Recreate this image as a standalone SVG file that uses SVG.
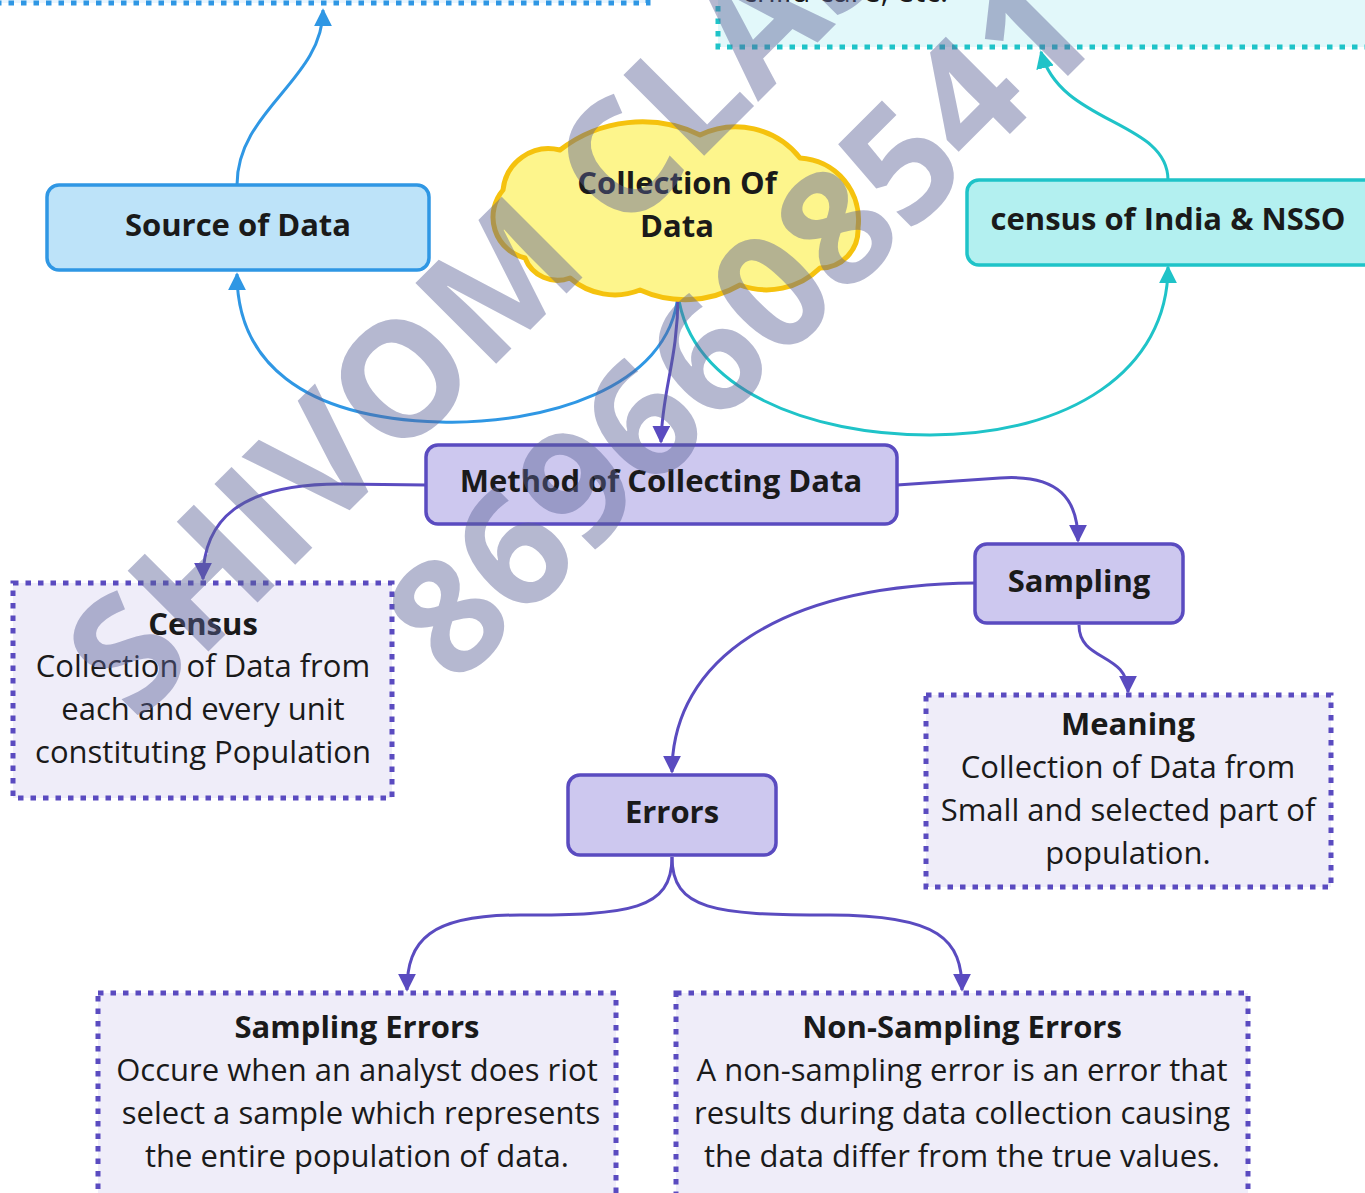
<svg xmlns="http://www.w3.org/2000/svg" width="1365" height="1193" viewBox="0 0 1365 1193">
<style>
  text { font-family: "Open Sans", "Noto Sans", "Liberation Sans", sans-serif; font-size: 31px; fill: #1a1a1a; text-anchor: middle; }
  .b { font-weight: 700; }
  .pbox { fill: #cdc8ef; stroke: #5a4bc0; stroke-width: 3.5; }
  .dbox { fill: #efedf9; stroke: #5a4bc0; stroke-width: 5; stroke-dasharray: 5.5 7; }
  .conn { fill: none; stroke-width: 3; }
  .wm { font-family: "Open Sans", "Noto Sans", sans-serif; font-weight: 700; font-size: 160px; fill: #5a6296; fill-opacity: 0.45; text-anchor: start; }
</style>
<defs>
  <marker id="ap" viewBox="0 0 10 10" refX="9" refY="5" markerWidth="6" markerHeight="6" orient="auto" markerUnits="strokeWidth"><path d="M0,0 L10,5 L0,10 z" fill="#5a4bc0"/></marker>
  <marker id="ab" viewBox="0 0 10 10" refX="9" refY="5" markerWidth="6" markerHeight="6" orient="auto" markerUnits="strokeWidth"><path d="M0,0 L10,5 L0,10 z" fill="#2f97e4"/></marker>
  <marker id="at" viewBox="0 0 10 10" refX="9" refY="5" markerWidth="6" markerHeight="6" orient="auto" markerUnits="strokeWidth"><path d="M0,0 L10,5 L0,10 z" fill="#1fc3c8"/></marker>
</defs>
<rect width="1365" height="1193" fill="#ffffff"/>

<g id="top-left-box">
  <rect x="-20" y="-120" width="668" height="123" fill="#e9f4fd" stroke="#2f97e4" stroke-width="5" stroke-dasharray="5.5 7"/>
</g>
<g id="top-right-box">
  <rect x="718" y="-120" width="680" height="167" fill="#e2f8fa" stroke="#1fc3c8" stroke-width="5" stroke-dasharray="5.5 7"/>
  <text x="742" y="2" style="text-anchor:start">child care, etc.</text>
</g>

<g id="connectors">
  <path class="conn" stroke="#2f97e4" marker-end="url(#ab)" d="M237,185 C237,110 323,80 323,10"/>
  <path class="conn" stroke="#1fc3c8" marker-end="url(#at)" d="M1168,180 C1168,120 1060,125 1041,52"/>
  <path class="conn" stroke="#2f97e4" marker-end="url(#ab)" d="M678,294 C670,390 540,425 440,422 C300,418 237,360 237,274"/>
  <path class="conn" stroke="#1fc3c8" marker-end="url(#at)" d="M678,294 C690,390 810,435 930,435 C1070,435 1168,370 1168,267"/>
  <path class="conn" stroke="#5a4bc0" marker-end="url(#ap)" d="M678,294 C678,360 662,390 661,442"/>
  <path class="conn" stroke="#5a4bc0" marker-end="url(#ap)" d="M426,485 L340,484 C240,484 203,520 203,579"/>
  <path class="conn" stroke="#5a4bc0" marker-end="url(#ap)" d="M897,485 L1000,478 C1060,474 1078,500 1078,541"/>
  <path class="conn" stroke="#5a4bc0" marker-end="url(#ap)" d="M1079,625 C1079,662 1128,652 1128,692"/>
  <path class="conn" stroke="#5a4bc0" marker-end="url(#ap)" d="M975,583 C780,585 672,660 672,772"/>
  <path class="conn" stroke="#5a4bc0" marker-end="url(#ap)" d="M672,857 C672,910 630,915 520,915 C430,915 407,940 407,990"/>
  <path class="conn" stroke="#5a4bc0" marker-end="url(#ap)" d="M672,857 C672,910 714,915 830,915 C940,915 962,940 962,990"/>
</g>

<g id="source-of-data">
  <rect x="47" y="185" width="382" height="85" rx="12" fill="#bde3f9" stroke="#2f97e4" stroke-width="3.5"/>
  <text class="b" x="238" y="236">Source of Data</text>
</g>

<g id="collection-of-data">
  <path d="M525,258 A42,42 0 0 1 503,190 A46,46 0 0 1 560,150 A134,134 0 0 1 700,135 A82,82 0 0 1 800,158 A62,62 0 0 1 858,228 A38,38 0 0 1 820,268 A76,76 0 0 1 740,285 A110,110 0 0 1 640,290 A68,68 0 0 1 570,278 A35,35 0 0 1 525,258 Z" fill="#fdf58c" stroke="#f5c20e" stroke-width="5" stroke-linejoin="round"/>
  <text class="b" x="677" y="194">Collection Of</text>
  <text class="b" x="677" y="237">Data</text>
</g>

<g id="census-india-nsso">
  <rect x="967" y="180" width="410" height="85" rx="12" fill="#b3f0f0" stroke="#1fc3c8" stroke-width="3.5"/>
  <text class="b" x="1168" y="230">census of India &amp; NSSO</text>
</g>

<g id="method">
  <rect class="pbox" x="426" y="445" width="471" height="79" rx="12"/>
  <text class="b" x="661" y="492">Method of Collecting Data</text>
</g>

<g id="census">
  <rect class="dbox" x="13" y="583" width="379" height="215"/>
  <text class="b" x="203" y="635">Census</text>
  <text x="203" y="677">Collection of Data from</text>
  <text x="203" y="720">each and every unit</text>
  <text x="203" y="763">constituting Population</text>
</g>

<g id="sampling">
  <rect class="pbox" x="975" y="544" width="208" height="79" rx="12"/>
  <text class="b" x="1079" y="592">Sampling</text>
</g>

<g id="meaning">
  <rect class="dbox" x="926" y="695" width="405" height="192"/>
  <text class="b" x="1128" y="735">Meaning</text>
  <text x="1128" y="778">Collection of Data from</text>
  <text x="1128" y="821">Small and selected part of</text>
  <text x="1128" y="864">population.</text>
</g>

<g id="errors">
  <rect class="pbox" x="568" y="775" width="208" height="80" rx="12"/>
  <text class="b" x="672" y="823">Errors</text>
</g>

<g id="sampling-errors">
  <rect class="dbox" x="98" y="993" width="518" height="230"/>
  <text class="b" x="357" y="1038">Sampling Errors</text>
  <text x="357" y="1081">Occure when an analyst does riot</text>
  <text x="361" y="1124">select a sample which represents</text>
  <text x="357" y="1167">the entire population of data.</text>
</g>

<g id="non-sampling-errors">
  <rect class="dbox" x="676" y="993" width="572" height="230"/>
  <text class="b" x="962" y="1038">Non-Sampling Errors</text>
  <text x="962" y="1081">A non-sampling error is an error that</text>
  <text x="962" y="1124">results during data collection causing</text>
  <text x="962" y="1167">the data differ from the true values.</text>
</g>

<g id="watermark">
  <text class="wm" transform="translate(136,724) rotate(-45)">SHIVOM CLASSES</text>
  <text class="wm" transform="translate(456,688) rotate(-45)">8696608541</text>
</g>
</svg>
